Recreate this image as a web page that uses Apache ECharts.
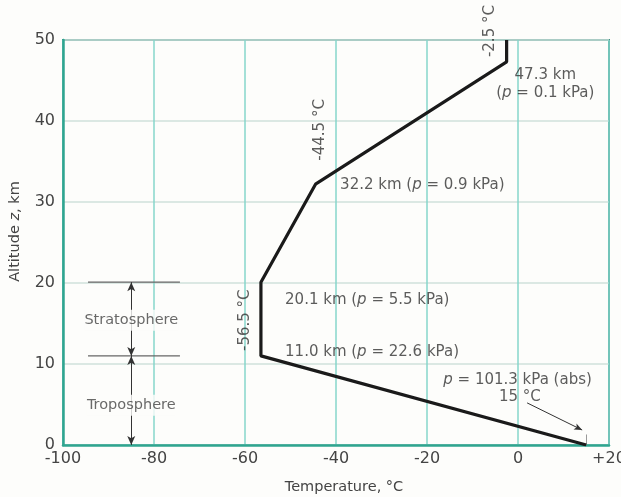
<!DOCTYPE html>
<html><head><meta charset="utf-8">
<script src="https://cdn.jsdelivr.net/npm/echarts@6/dist/echarts.min.js"></script>
<style>html,body{margin:0;padding:0;background:#fdfdfb;}#c{width:621px;height:497px;}</style>
</head><body><div id="c"></div>
<script>
// Standard atmosphere temperature profile
var temps = [15, -56.5, -56.5, -44.5, -2.5, -2.5];
var alts  = [0, 11.0, 20.1, 32.2, 47.3, 50];
var xTicks = [-100, 20, 20];   // min, max, interval
var yTicks = [0, 50, 10];
// layer boundary lines (x1, x2, altitude)
var layerBounds = [[-94.5, -74.3, 20.1], [-94.5, -74.3, 11.0]];
// layer arrows: x, from, to
var layerArrows = [[-85, 20.1, 11.0], [-85, 11.0, 0]];
// text annotations: [T, z, text, align, rotate]
var notes = [
  [6, 44.6, '47.3 km\n({i|p} = 0.1 kPa)', 'center', 0],
  [-39.1, 32.1, '32.2 km ({i|p} = 0.9 kPa)', 'left', 0],
  [-51.2, 17.9, '20.1 km ({i|p} = 5.5 kPa)', 'left', 0],
  [-51.2, 11.5, '11.0 km ({i|p} = 22.6 kPa)', 'left', 0],
  [-0.1, 8.0, '{i|p} = 101.3 kPa (abs)', 'center', 0],
  [0.4, 5.9, '15 °C', 'center', 0],
  [-6.2, 51.1, '-2.5 °C', 'center', 90],
  [-43.5, 38.9, '-44.5 °C', 'center', 90],
  [-60, 15.4, '-56.5 °C', 'center', 90]
];
var layerNames = [[-85, 15.4, 'Stratosphere'], [-85, 4.9, 'Troposphere']];
var surfaceArrow = [[2.0, 5.2], [14.1, 1.85]];
var surfaceTick = [[15, 0], [15, 1.3]];

var FONT = 'DejaVu Sans, Verdana, sans-serif';
var chart = echarts.init(document.getElementById('c'), null, {renderer: 'canvas'});
var series = [];
series.push({
  type: 'line', data: temps.map(function (t, i) { return [t, alts[i]]; }),
  symbol: 'none', lineStyle: {color: '#1a1a1a', width: 3.2}, z: 5, animation: false
});
layerBounds.forEach(function (b) {
  series.push({type: 'line', data: [[b[0], b[2]], [b[1], b[2]]], symbol: 'none',
    lineStyle: {color: '#666', width: 1.3}, animation: false, z: 3});
});
series.push({
  type: 'scatter', data: [], animation: false,
  markLine: {
    silent: true, symbol: ['arrow', 'arrow'], symbolSize: [6, 9],
    lineStyle: {color: '#333', width: 1, type: 'solid'}, label: {show: false},
    data: layerArrows.map(function (a) { return [{coord: [a[0], a[1]]}, {coord: [a[0], a[2]]}]; })
      .concat([[{coord: surfaceArrow[0], symbol: 'none'}, {coord: surfaceArrow[1], symbol: 'arrow', symbolSize: [5, 8]}],
               [{coord: surfaceTick[0], symbol: 'none', lineStyle: {color: '#999'}}, {coord: surfaceTick[1], symbol: 'none'}]])
  }
});
series.push({
  type: 'scatter', symbolSize: 0, clip: false, animation: false, z: 10,
  data: layerNames.map(function (n) { return {value: [n[0], n[1]], name: n[2]}; }),
  label: {show: true, position: 'inside', formatter: '{b}', color: '#444', fontSize: 14.5,
    fontFamily: FONT, backgroundColor: '#fdfdfb', padding: [3, 0, 3, 0]}
});
series.push({
  type: 'scatter', symbolSize: 0, clip: false, animation: false, z: 10,
  data: notes.map(function (n) {
    return {value: [n[0], n[1]], name: n[2], label: {align: n[3], rotate: n[4]}};
  }),
  label: {show: true, position: 'inside', formatter: '{b}', color: '#333', fontSize: 15, lineHeight: 18,
    fontFamily: FONT,
    rich: {i: {fontStyle: 'italic', fontSize: 15, color: '#333', fontFamily: FONT}}}
});

chart.setOption({
  backgroundColor: '#fdfdfb',
  animation: false,
  grid: {left: 63, right: 12, top: 40, bottom: 52, show: true, borderColor: '#3f8f82', borderWidth: 2,
    backgroundColor: 'transparent', containLabel: false, outerBoundsMode: 'none'},
  xAxis: {
    type: 'value', min: xTicks[0], max: xTicks[1], interval: xTicks[2],
    name: 'Temperature, °C', nameLocation: 'middle', nameGap: 35,
    nameTextStyle: {fontSize: 14.5, color: '#444', padding: [0, 0, 0, 16], fontFamily: FONT},
    axisLine: {show: true, onZero: false, lineStyle: {color: '#2fa590', width: 2.5}},
    axisTick: {show: false},
    axisLabel: {fontSize: 16, color: '#444', margin: 6, fontFamily: FONT,
      formatter: function (v) { return v > 0 ? '+' + v : String(v); }},
    splitLine: {show: true, lineStyle: {color: '#86d6cb', width: 1.5}}
  },
  yAxis: {
    type: 'value', min: yTicks[0], max: yTicks[1], interval: yTicks[2],
    name: 'Altitude {i|z}, km', nameLocation: 'middle', nameGap: 40,
    nameTextStyle: {fontSize: 14.5, color: '#444', padding: [0, 0, 0, 22], fontFamily: FONT,
      rich: {i: {fontStyle: 'italic', fontSize: 14.5, color: '#444', fontFamily: FONT}}},
    axisLine: {show: true, onZero: false, lineStyle: {color: '#2fa590', width: 2.5}},
    axisTick: {show: false},
    axisLabel: {fontSize: 16, color: '#444', margin: 8, fontFamily: FONT},
    splitLine: {show: true, lineStyle: {color: '#cfe0db', width: 1.5}}
  },
  series: series
});
</script></body></html>
